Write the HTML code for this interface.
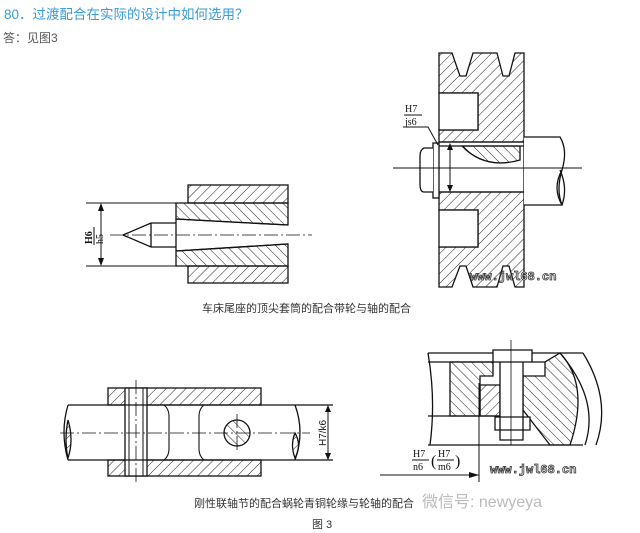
<!DOCTYPE html>
<html><head><meta charset="utf-8"><style>
html,body{margin:0;padding:0;background:#fff;}
body{width:640px;height:533px;overflow:hidden;position:relative;}
</style></head><body>
<svg width="640" height="533" viewBox="0 0 640 533" xmlns="http://www.w3.org/2000/svg" style="position:absolute;left:0;top:0">
<defs>
<pattern id="h1" width="7" height="7" patternUnits="userSpaceOnUse" patternTransform="rotate(45)"><line x1="0" y1="0" x2="0" y2="7" stroke="#222" stroke-width="1"/></pattern>
<pattern id="h2" width="7" height="7" patternUnits="userSpaceOnUse" patternTransform="rotate(-45)"><line x1="0" y1="0" x2="0" y2="7" stroke="#222" stroke-width="1"/></pattern>
</defs>
<text x="4" y="19" font-family="Liberation Sans, Noto Sans CJK SC, sans-serif" font-size="13.5" fill="#3a9ad9">80．过渡配合在实际的设计中如何选用？</text>
<text x="3" y="42" font-family="Liberation Sans, Noto Sans CJK SC, sans-serif" font-size="12" fill="#555">答：见图3</text>

<g stroke="#111" stroke-width="1.3" fill="none">
<!-- tailstock -->
<rect x="188" y="185" width="100" height="18" fill="url(#h1)"/>
<rect x="188" y="266" width="100" height="17" fill="url(#h1)"/>
<path d="M180 203 H288 V225 L176 219 V203Z" fill="url(#h2)"/>
<path d="M180 266 H288 V244 L176 251 V266Z" fill="url(#h2)"/>
<path d="M176 219 L288 225 M176 251 L288 244 M176 219 V251"/>
<path d="M123 235 L151 223 H176 M123 235 L151 247 H176 M151 223 V247"/>
<path d="M86 203 H180 M86 266 H180 M101 205 V264" stroke-width="1"/>
<path d="M101 203 l-3 8 h6z M101 266 l-3 -8 h6z" fill="#111" stroke="none"/>
<path d="M110 235 H312" stroke-width="0.8" stroke-dasharray="14 3 2 3"/>

<!-- pulley -->
<path d="M439 53 H452 L460 76 H466 L473 53 H497 L503 76 H509 L515 53 H524 V287 H515 L509 266 H503 L497 287 H473 L466 266 H460 L452 287 H439 V247 H478 V210 H439 V192 H524 V142 H439 V130 H478 V93 H439Z" fill="url(#h1)"/>
<rect x="439" y="93" width="39" height="37" fill="#fff"/>
<rect x="439" y="210" width="39" height="37" fill="#fff"/>
<path d="M439 142 H524 M439 146 H524 M439 192 H524"/>
<path d="M462 146 Q485 170 520 160 V146Z" fill="url(#h2)"/>
<path d="M524 137 H560 Q568 150 562 170 Q556 190 562 205 H524" fill="#fff"/>
<path d="M560 170 Q568 188 562 205 M562 170 Q552 188 562 205"/>
<rect x="433" y="143" width="6" height="55" fill="#fff"/>
<path d="M433 148 H424 Q420 150 420 156 V184 Q420 192 424 192 H433" fill="#fff"/>
<path d="M450 145 V190" stroke-width="1"/>
<path d="M450 143 l-3 7 h6z M450 192 l-3 -7 h6z" fill="#111" stroke="none"/>
<path d="M393 168 H582" stroke-width="0.9"/>
<path d="M403 127 H428 L438 145" stroke-width="1"/>

<!-- coupling -->
<rect x="108" y="388" width="153" height="17" fill="url(#h1)"/>
<rect x="108" y="460" width="153" height="16" fill="url(#h1)"/>
<rect x="125" y="388" width="22" height="88" fill="#fff"/>
<path d="M68 405 H295 M68 460 H295 M295 405 H333 M295 460 H333"/>
<path d="M68 405 Q60 432 68 460 M295 405 Q305 432 295 460"/>
<path d="M68 420 Q64 440 68 458 Q74 440 68 420Z" fill="url(#h1)"/>
<path d="M295 433 Q290 445 295 458 Q302 445 295 433Z" fill="url(#h1)"/>
<path d="M164 405 Q169 409 169 416 V449 Q169 456 164 460 M204 405 Q199 409 199 416 V449 Q199 456 204 460" stroke-width="1.1"/>
<path d="M125 392 V472 M147 392 V472 M129 388 V476 M143 388 V476" stroke-width="1"/>
<circle cx="237" cy="433" r="13" fill="url(#h2)"/>
<path d="M60 433 H310 M136 380 V485 M237 414 V452" stroke-width="0.8" stroke-dasharray="14 3 2 3"/>
<path d="M328 407 V458" stroke-width="1"/>
<path d="M328 405 l-3 7 h6z M328 460 l-3 -7 h6z" fill="#111" stroke="none"/>

<!-- worm wheel -->
<path d="M428 353 H583 M428 362 H493 M532 362 H545 M428 416 H500 M428 445 H583 M428 353 Q436 400 430 445"/>
<path d="M450 362 H493 V376 H480 V385 L480 416 H450Z" fill="url(#h2)"/>
<path d="M480 385 H500 V416 H480Z" fill="url(#h1)"/>
<path d="M523 376 H545 V362 L560 353 Q590 385 570 445 H550 L523 410Z" fill="url(#h2)"/>
<path d="M560 353 Q600 400 585 445 M583 353 Q612 400 596 445"/>
<path d="M493 350 H532 V362 H493Z M500 362 V440 H523 V362 M495 417 H530 V430 H495Z" fill="#fff"/>
<path d="M511 340 V445" stroke-width="0.8"/>
<path d="M479 383 V482 M380 475 H479" stroke-width="1"/>
<path d="M479 475 l-10 -3 v6z" fill="#111" stroke="none"/>
</g>

<g font-family="Liberation Serif, serif" font-size="10" fill="#111">
<text x="405" y="112">H7</text><line x1="404" y1="115" x2="422" y2="115" stroke="#111"/>
<text x="405" y="125">js6</text>
<g transform="translate(94,235) rotate(-90)"><text x="-9" y="-2" font-weight="bold">H6</text><line x1="-10" y1="0" x2="8" y2="0" stroke="#111"/><text x="-9" y="9">h5</text></g>
<text transform="translate(326,446) rotate(-90)" font-family="Liberation Sans, sans-serif">H7/k6</text>
<text x="413" y="457">H7</text><line x1="412" y1="460" x2="429" y2="460" stroke="#111"/><text x="413" y="470">n6</text>
<text x="431" y="466" font-size="16">(</text>
<text x="438" y="457">H7</text><line x1="437" y1="460" x2="454" y2="460" stroke="#111"/><text x="438" y="470">m6</text>
<text x="455" y="466" font-size="16">)</text>
</g>
<g font-family="Liberation Mono, monospace" font-size="12" font-weight="bold" fill="#fff" stroke="#333" stroke-width="0.8">
<text x="470" y="280">www.jwl68.cn</text>
<text x="490" y="473">www.jwl68.cn</text>
</g>
<g font-family="Liberation Sans, Noto Sans CJK SC, sans-serif" fill="#333">
<text x="202" y="312" font-size="11">车床尾座的顶尖套筒的配合带轮与轴的配合</text>
<text x="194" y="507" font-size="11">刚性联轴节的配合蜗轮青铜轮缘与轮轴的配合</text>
<text x="422" y="507" font-size="16" fill="#bbb">微信号: newyeya</text>
<text x="312" y="528" font-size="11">图 3</text>
</g>
</svg>
</body></html>
